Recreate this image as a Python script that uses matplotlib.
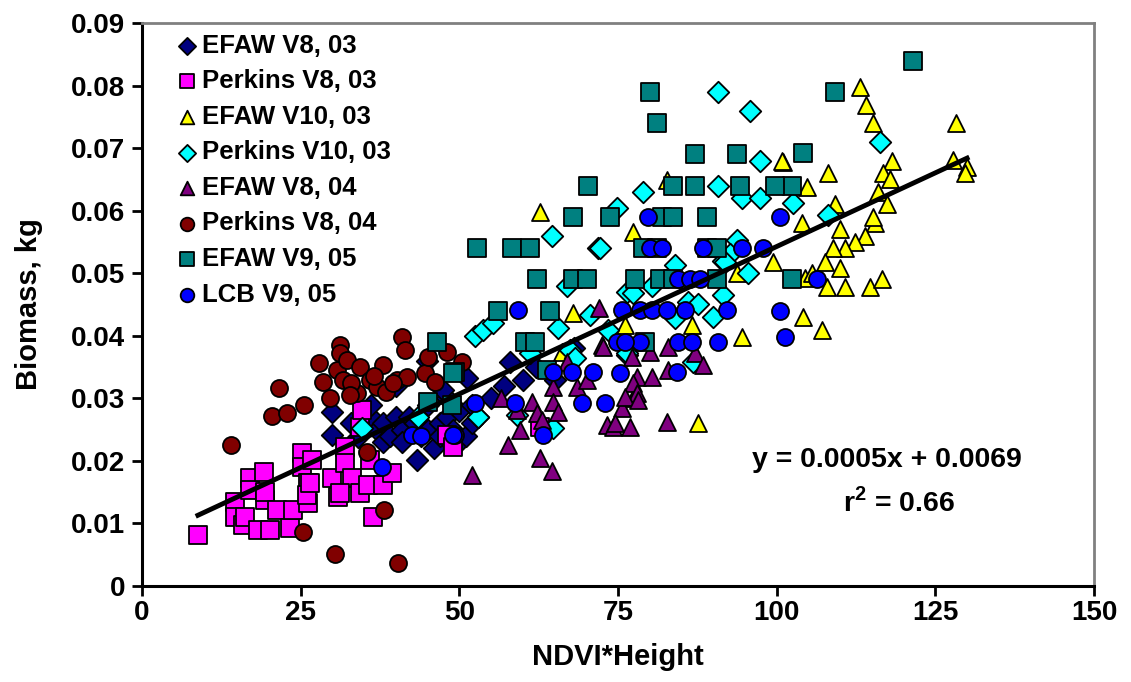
import matplotlib
matplotlib.use("Agg")
import matplotlib.pyplot as plt

plt.rcParams['font.family'] = ['Liberation Sans', 'DejaVu Sans']
plt.rcParams['font.weight'] = 'bold'
plt.rcParams['mathtext.fontset'] = 'custom'
plt.rcParams['mathtext.rm'] = 'Liberation Sans:bold'
plt.rcParams['mathtext.bf'] = 'Liberation Sans:bold'

# EFAW V8, 03
efaw_v8_03_x = [30, 30, 33, 34, 36, 37, 38, 38, 39, 40, 41, 41, 42, 43, 43.3, 44, 45, 45, 46, 47, 47, 48, 48, 49,
                50, 50, 51, 52, 52, 53, 55, 57, 58, 60, 44.9, 47.4, 51.2, 62, 65, 68, 40, 36]
efaw_v8_03_y = [.0278, .0241, .026, .0238, .027, .025, .023, .026, .024, .027, .025, .023, .027, .026, .0201, .024,
                .025, .029, .022, .026, .024, .027, .030, .025, .023, .028, .024, .026, .029, .027, .030, .032, .0358,
                .033, .036, .0313, .0332, .035, .033, .038, .032, .029]
# Perkins V8, 03
perkins_v8_03_x = [8.8, 14.7, 14.7, 15.9, 16.2, 17, 17, 18.3, 19.2, 19.4, 19.4, 20.2, 21.3, 23.3, 23.8, 25.2, 25.2,
                   26.2, 26.2, 26, 26.8, 29.9, 30.9, 32, 32, 33.1, 34.3, 34.3, 34.7, 35.6, 35.9, 36.4, 38, 39.4, 48,
                   49, 62.7, 31.2, 26.5]
perkins_v8_03_y = [.0082, .0134, .011, .0097, .011, .0173, .0153, .009, .0182, .0137, .015, .009, .0121, .0093, .0121,
                   .0212, .019, .0165, .0133, .0146, .0201, .0173, .0142, .0222, .0197, .0173, .0149, .0254, .0281,
                   .0161, .0201, .011, .0161, .018, .0241, .0222, .0254, .0149, .0165]
# EFAW V10, 03
efaw_v10_03_x = [113.1, 114.1, 115.2, 128.2, 127.8, 130, 129.7, 118.2, 116.7, 117.8, 116, 117.4, 115.5, 115.2, 113.9,
                 112.3, 110.8, 108.9, 110, 109.2, 108.1, 104.8, 101, 104, 107.6, 110, 107.9, 110.8, 114.7, 116.6,
                 104.5, 105.6, 104.2, 107.1, 77.4, 99.4, 93.7, 76.1, 86.7, 94.5, 87.6, 100.8, 82.7, 62.7, 66.2, 67.9]
efaw_v10_03_y = [.0798, .0769, .074, .074, .0681, .067, .066, .068, .066, .065, .063, .061, .058, .059, .056, .055,
                 .054, .054, .057, .061, .066, .0638, .0678, .058, .0518, .0508, .0478, .0478, .0478, .049, .0492,
                 .050, .043, .041, .0566, .0518, .050, .0417, .0417, .0398, .026, .068, .0649, .0598, .0374, .0436]
# Perkins V10, 03
perkins_v10_03_x = [90.8, 95.8, 116.3, 102.6, 108.1, 97.4, 90.8, 78.9, 94.5, 97.4, 74.8, 64.6, 71.8, 84, 95.5, 93.7,
                    92.6, 91.5, 67, 76.4, 77.4, 80.4, 91.5, 72.2, 91.9, 86, 87.6, 90, 84, 73.4, 76.4, 86.8, 52.5,
                    53.7, 55.3, 65.5, 70.6, 67.4, 68.2, 61.1, 52.9, 64.8, 59.1, 76.4, 34.7, 43.5]
perkins_v10_03_y = [.079, .076, .071, .0612, .0593, .068, .064, .063, .062, .062, .0604, .056, .054, .0513, .050,
                    .0553, .053, .052, .048, .047, .0468, .048, .0465, .054, .0518, .0454, .045, .043, .0428, .0409,
                    .0369, .0358, .040, .041, .042, .0412, .0433, .0377, .0364, .0372, .027, .0253, .0273, .0372,
                    .0253, .027]
# EFAW V8, 04
efaw_v8_04_x = [72.5, 77.2, 67, 68.5, 70.1, 64.8, 64.8, 61.4, 65.5, 59.1, 62.2, 59.6, 57.7, 62.7, 64.6, 52, 77.4,
                75.6, 73.3, 74.2, 76.9, 78, 72.6, 80, 82.9, 87.1, 88.4, 80.4, 82.9, 77.4, 78, 76.1, 78.1, 74.5,
                82.7, 72, 63, 56.5]
efaw_v8_04_y = [.0385, .0366, .0358, .0318, .033, .0318, .0294, .0294, .0278, .0281, .0276, .025, .0225, .0205,
                .0183, .0177, .030, .0284, .0257, .0254, .0254, .0334, .0382, .0374, .0382, .0372, .0353, .0334,
                .0345, .0324, .0308, .0302, .0297, .026, .0262, .0445, .0265, .030]
# Perkins V8, 04
perkins_v8_04_x = [14, 20.5, 21.6, 22.8, 25.5, 27.9, 28.5, 29.6, 25.3, 30.4, 40.9, 41.4, 31.2, 31.2, 30.7, 32.3,
                   34.3, 38, 31.7, 35.9, 37, 33.9, 40.2, 41.7, 44.6, 45.1, 46.2, 50.4, 35.4, 38.1, 40.3, 33, 36.5,
                   32.8, 38.5, 39.5, 48]
perkins_v8_04_y = [.0225, .0272, .0316, .0276, .029, .0357, .0326, .030, .0086, .0051, .0398, .0377, .0385, .0372,
                   .0345, .0361, .035, .0353, .033, .033, .0318, .0308, .033, .0334, .034, .0366, .0326, .0358,
                   .0214, .0121, .0037, .0325, .0335, .0305, .031, .0325, .0374]
# EFAW V9, 05
efaw_v9_05_x = [121.5, 109.2, 104.2, 102.4, 102.4, 87.1, 93.7, 80, 81.1, 70.3, 83.7, 87.1, 94.2, 99.7, 67.9, 73.7,
                81.9, 83.7, 89, 52.8, 58.3, 61.1, 78.9, 81.1, 89, 90.6, 62.2, 67.9, 70.1, 77.7, 81.6, 83.7, 90.6,
                56.1, 64.3, 60.3, 61.9, 46.5, 49.3, 48.8, 45.1, 63.8, 79.2, 49]
efaw_v9_05_y = [.084, .079, .0692, .064, .049, .069, .069, .079, .074, .064, .064, .064, .064, .064, .059, .059,
                .059, .059, .059, .054, .054, .054, .054, .054, .054, .054, .049, .049, .049, .049, .049, .049, .049,
                .044, .044, .039, .039, .039, .0342, .029, .0294, .0345, .039, .034]
# LCB V9, 05
lcb_v9_05_x = [106.3, 100.5, 100.5, 101.3, 79.7, 80, 81.9, 88.4, 94.5, 97.8, 84.4, 86.3, 87.9, 75.6, 78.5, 80.4,
               82.7, 85.6, 92.2, 74.8, 78.5, 84.4, 86.7, 90.8, 75.3, 84.3, 72.9, 59.2, 64.8, 67.7, 71.1, 58.8, 69.3,
               52.5, 49.3, 63.2, 76.1, 42.5, 49, 37.8, 44]
lcb_v9_05_y = [.049, .059, .044, .0398, .059, .054, .054, .054, .054, .054, .049, .049, .049, .0441, .0441, .0441,
               .0441, .0441, .0441, .039, .039, .039, .039, .039, .034, .0342, .0292, .0441, .0342, .0342, .0342,
               .0292, .0292, .0292, .0241, .0241, .039, .0241, .0241, .019, .024]

# trend line end points as drawn
fit_x = [8.8, 130]
fit_y = [0.0113, 0.0684]

series = [
    ('EFAW V8, 03', efaw_v8_03_x, efaw_v8_03_y, 'D', '#000080', 120),
    ('Perkins V8, 03', perkins_v8_03_x, perkins_v8_03_y, 's', '#FF00FF', 150),
    ('EFAW V10, 03', efaw_v10_03_x, efaw_v10_03_y, '^', '#FFFF00', 150),
    ('Perkins V10, 03', perkins_v10_03_x, perkins_v10_03_y, 'D', '#00FFFF', 120),
    ('EFAW V8, 04', efaw_v8_04_x, efaw_v8_04_y, '^', '#800080', 150),
    ('Perkins V8, 04', perkins_v8_04_x, perkins_v8_04_y, 'o', '#800000', 150),
    ('EFAW V9, 05', efaw_v9_05_x, efaw_v9_05_y, 's', '#008080', 150),
    ('LCB V9, 05', lcb_v9_05_x, lcb_v9_05_y, 'o', '#0000FF', 150),
]

fig = plt.figure(figsize=(11.31, 6.82), dpi=100)
ax = fig.add_axes([0.1256, 0.1408, 0.8417, 0.8255])

for label, xs, ys, m, c, s in series:
    ax.scatter(xs, ys, marker=m, s=s, c=c, edgecolors='black', linewidths=1.3, label=label, zorder=3)

ax.plot(fit_x, fit_y, color='black', lw=3.5, zorder=4)

ax.set_xlim(0, 150)
ax.set_ylim(0, 0.09)
ax.set_xticks([0, 25, 50, 75, 100, 125, 150])
ax.set_yticks([0, 0.01, 0.02, 0.03, 0.04, 0.05, 0.06, 0.07, 0.08, 0.09])
ax.set_yticklabels(['0', '0.01', '0.02', '0.03', '0.04', '0.05', '0.06', '0.07', '0.08', '0.09'])
ax.tick_params(direction='out', length=7, width=2)
ax.tick_params(axis='y', labelsize=20, pad=5)
ax.tick_params(axis='x', labelsize=20, pad=3)
for sp in ['left', 'bottom']:
    ax.spines[sp].set_linewidth(2.2)
    ax.spines[sp].set_color('black')
for sp in ['top', 'right']:
    ax.spines[sp].set_linewidth(2)
    ax.spines[sp].set_color('#808080')

ax.set_xlabel('NDVI*Height', fontsize=21, fontweight='bold', labelpad=12)
ax.set_ylabel('Biomass, kg', fontsize=21, fontweight='bold', labelpad=20)

ax.text(117.3, 0.0202, 'y = 0.0005x + 0.0069', ha='center', va='center', fontsize=20.5, fontweight='bold')
ax.text(119.3, 0.0133, r'r$^{\mathbf{2}}$ = 0.66', ha='center', va='center', fontsize=20.5, fontweight='bold')

leg = ax.legend(loc='upper left', bbox_to_anchor=(0.02, 1.004), frameon=False, fontsize=18.5,
                markerscale=0.8, handletextpad=0.1, labelspacing=0.45, handlelength=1.0, borderaxespad=0.1,
                scatterpoints=1)
for t in leg.get_texts():
    t.set_fontweight('bold')

fig.savefig('out.png', dpi=100)
